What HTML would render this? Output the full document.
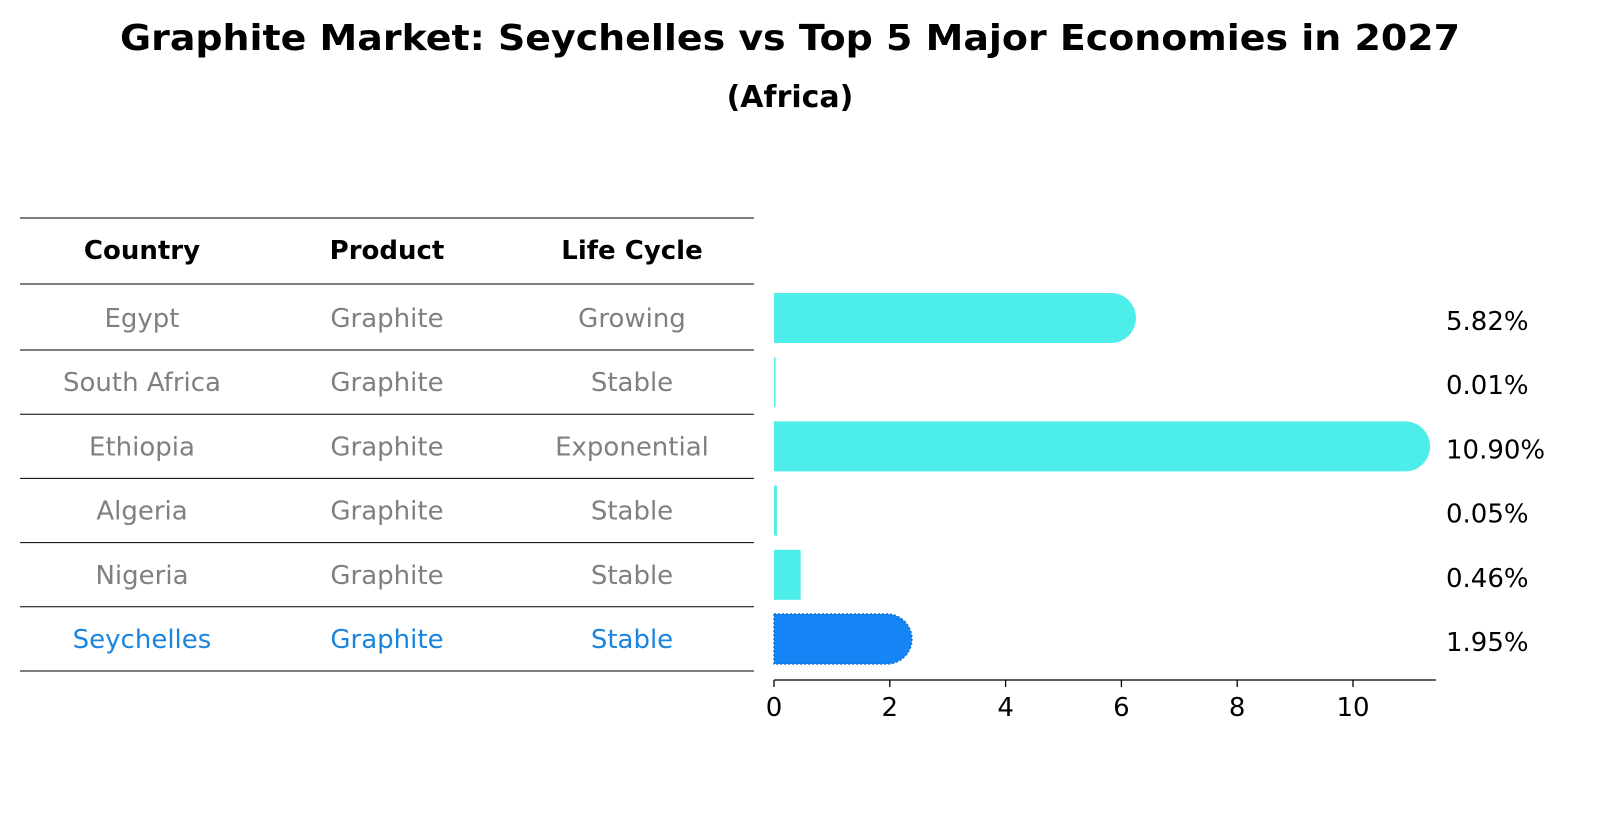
<!DOCTYPE html>
<html><head><meta charset="utf-8">
<style>
body{margin:0;background:#fff;font-family:"Liberation Sans","DejaVu Sans",sans-serif;}
svg text{font-family:"DejaVu Sans","Liberation Sans",sans-serif;}
</style></head>
<body>
<svg width="1604" height="823" viewBox="0 0 1604 823" xmlns="http://www.w3.org/2000/svg">
<text x="790" y="50" text-anchor="middle" font-size="36" font-weight="bold" textLength="1340" lengthAdjust="spacingAndGlyphs">Graphite Market: Seychelles vs Top 5 Major Economies in 2027</text>
<text x="790" y="107" text-anchor="middle" font-size="30" font-weight="bold">(Africa)</text>
<g id="table"></g>
<g id="bars"></g>
</svg>
<script>
const countries=["Egypt","South Africa","Ethiopia","Algeria","Nigeria","Seychelles"];
const products=["Graphite","Graphite","Graphite","Graphite","Graphite","Graphite"];
const lifeCycles=["Growing","Stable","Exponential","Stable","Stable","Stable"];
const shares=[5.82,0.01,10.90,0.05,0.46,1.95];
const valueLabels=["5.82%","0.01%","10.90%","0.05%","0.46%","1.95%"];
const xTicks=[0,2,4,6,8,10];
const highlight="Seychelles";

const NS="http://www.w3.org/2000/svg";
function mk(tag,attrs,parent){const e=document.createElementNS(NS,tag);for(const k in attrs)e.setAttribute(k,attrs[k]);parent.appendChild(e);return e;}
const x=v=>774+v*57.9;
const rowY=i=>318+i*64.2;
const table=document.getElementById('table');
const bars=document.getElementById('bars');
const colX=[142,387,632];
const FS=26;
["Country","Product","Life Cycle"].forEach((h,j)=>{
 const t=mk('text',{x:colX[j],y:259,'text-anchor':'middle','font-size':FS,'font-weight':'bold'},table);
 t.textContent=h;
 
 
});
[218,284].forEach(y=>{const l=mk('line',{x1:20,x2:754,y1:y,y2:y,stroke:'#000','stroke-width':1},table);
 
 });
countries.forEach((c,i)=>{
 const y=rowY(i);
 const col=c===highlight?'#1a85e0':'#808080';
 [c,products[i],lifeCycles[i]].forEach((v,j)=>{
  const t=mk('text',{x:colX[j],y:y+9,'text-anchor':'middle','font-size':FS,fill:col},table);
  t.textContent=v;
  
  
 });
 const l=mk('line',{x1:20,x2:754,y1:y+32,y2:y+32,stroke:'#000','stroke-width':1},table);
 
 
 const hl=c===highlight;
 const fill=hl?'#1585f5':'#4deeea';
 const w=x(shares[i])-x(0);
 const h=50, r=25;
 let b;
 if(shares[i]>1){
  b=mk('path',{d:`M${x(0)},${y-r} H${x(0)+w} A${r},${r} 0 0 1 ${x(0)+w},${y+r} H${x(0)} Z`,fill:fill},bars);
  if(hl){b.setAttribute('stroke','#1070d0');b.setAttribute('stroke-dasharray','2,2');b.setAttribute('stroke-width','1.5');}
 } else {
  b=mk('rect',{x:x(0),y:y-h/2,width:Math.max(w,1.5),height:h,fill:fill},bars);
 }
 
 
 const vt=mk('text',{x:1446,y:y+12,'font-size':FS,fill:'#000'},bars);
 vt.textContent=valueLabels[i];
 
 
});
const ax=mk('line',{x1:774,x2:1436,y1:680,y2:680,stroke:'#000','stroke-width':1.3},bars);


xTicks.forEach(v=>{
 const tk=mk('line',{x1:x(v),x2:x(v),y1:680,y2:687,stroke:'#000','stroke-width':1.3},bars);
 
 
 const t=mk('text',{x:x(v),y:716,'text-anchor':'middle','font-size':FS},bars);
 t.textContent=v;
 
 
});
</script>
</body></html>
